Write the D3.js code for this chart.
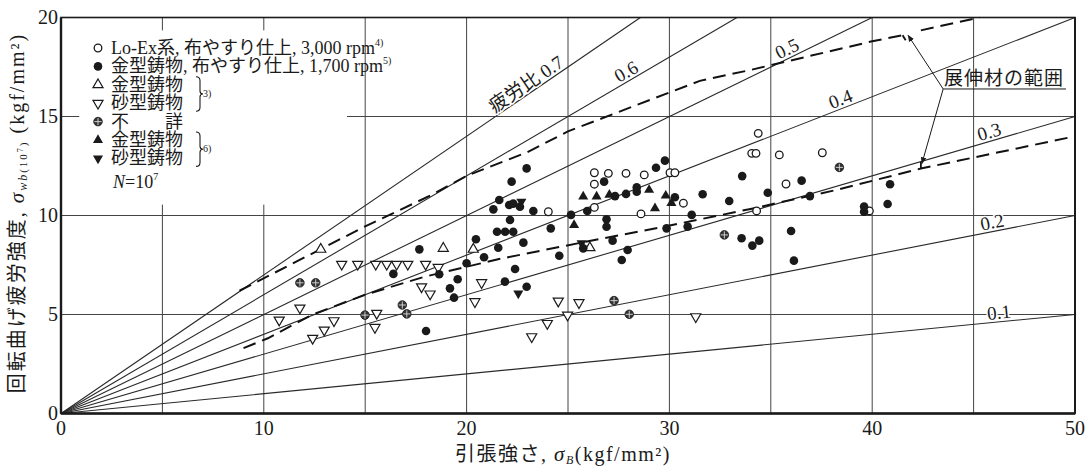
<!DOCTYPE html>
<html><head><meta charset="utf-8">
<script src="https://cdn.jsdelivr.net/npm/d3@7"></script>
<style>body{margin:0;background:#fff}svg{display:block}</style>
</head><body><svg id="c" width="1090" height="467"></svg>
<script>
// ---- axes / ticks ----
const xTicks=[0,10,20,30,40,50];
const yTicks=[0,5,10,15,20];
const xGrid=[5,10,15,20,25,30,35,40,45];
const yGrid=[5,10,15];
// ---- fatigue-ratio lines ----
const ratios=[0.1,0.2,0.3,0.4,0.5,0.6,0.7];
const ratioLabels=["0.1","0.2","0.3","0.4","0.5","0.6","疲労比 0.7"];
const ratioLabelAt=[46.3,46.0,45.9,38.6,36.0,28.1,23.2];
// ---- wrought-alloy range (dashed) ----
const wroughtUpper=[[8.8,6.2],[14.9,9.4],[18.2,11.0],[20,12.0],[23,13.2],[25,14.25],[31.5,16.8],[34,17.35],[40,18.8],[41.5,19.1]];
const wroughtUpper2=[[42.4,19.35],[45.3,20.0]];
const wroughtLower=[[9.0,3.3],[10.2,3.8],[12.4,5.0],[15.0,6.0],[17.9,6.9],[21.6,7.8],[25.7,8.64],[29.9,9.47],[34,10.33],[38.1,11.26],[42.4,12.37],[50,14.0]];
// ---- data series ----
const loExOpen=[[24.03,10.19],[26.3,10.41],[26.3,12.16],[26.99,12.13],[27.86,12.13],[28.76,12.05],[26.3,11.58],[30.03,12.16],[30.27,12.16],[28.6,10.08],[30.69,10.62],[34.06,13.14],[34.27,13.14],[34.38,14.15],[35.42,13.06],[35.75,11.59],[34.3,10.23],[37.54,13.17],[39.86,10.23]];
const moldPolished=[[16.39,7.05],[17.67,8.29],[18.65,7.03],[18.0,4.17],[19.18,6.32],[19.56,6.78],[19.38,5.85],[20.0,7.59],[20.46,8.8],[20.86,7.89],[21.89,6.66],[22.39,7.3],[22.96,6.4],[22.8,8.63],[21.56,8.37],[21.5,9.18],[21.9,9.18],[22.3,9.18],[22.14,9.77],[21.32,10.31],[21.61,10.78],[22.1,10.53],[22.3,10.6],[22.63,10.44],[22.22,11.71],[22.96,12.38],[23.29,10.23],[24.15,9.35],[24.57,7.97],[25.15,10.03],[25.75,8.34],[25.95,10.23],[26.9,9.81],[26.9,9.43],[27.2,8.73],[27.94,8.26],[27.65,7.75],[27.32,10.98],[27.86,11.09],[28.39,11.42],[28.39,11.2],[30.27,10.92],[26.78,11.71],[29.34,12.41],[29.78,12.77],[31.1,10.03],[31.64,11.07],[29.86,9.35],[30.9,9.44],[32.95,10.73],[33.59,11.99],[36.52,11.76],[34.85,11.15],[36.93,10.98],[33.56,8.85],[34.09,8.48],[34.43,8.73],[36.0,9.22],[36.14,7.72],[39.6,10.45],[39.6,10.19],[40.76,10.58],[40.88,11.58]];
const moldTri3=[[12.81,8.29],[18.85,8.34],[20.33,8.29],[26.08,8.37]];
const sandTri3=[[13.84,7.54],[14.63,7.54],[15.52,7.54],[16.06,7.54],[16.55,7.54],[17.1,7.54],[17.98,7.54],[18.6,7.38],[11.78,5.33],[10.76,4.72],[13.46,4.69],[12.98,4.22],[12.41,3.8],[15.57,5.06],[15.48,4.35],[17.78,6.4],[18.2,6.04],[20.74,6.61],[20.41,5.65],[24.52,5.68],[25.54,5.6],[24.98,4.97],[23.98,4.55],[23.21,3.88],[31.3,4.89]];
const unknown=[[11.78,6.6],[12.56,6.6],[14.99,4.97],[17.05,5.03],[16.83,5.48],[27.27,5.7],[28.02,5.01],[32.71,9.02],[38.38,12.43]];
const moldTri6=[[25.3,9.52],[25.75,10.95],[26.41,10.95],[27.04,11.04],[29.0,11.29],[29.29,10.36],[29.82,11.0],[30.1,10.63]];
const sandTri6=[[22.55,6.07],[22.7,10.7],[25.67,8.6]];

const legendRows=[
 {kind:"open",  parts:[["Lo-Ex系, 布やすり仕上, 3,000 rpm"],["4)","sup"]]},
 {kind:"filled",parts:[["金型鋳物, 布やすり仕上, 1,700 rpm"],["5)","sup"]]},
 {kind:"triUpOpen",parts:[["金型鋳物"]]},
 {kind:"triDnOpen",parts:[["砂型鋳物"]]},
 {kind:"cross", parts:[["不　　詳"]]},
 {kind:"triUp", parts:[["金型鋳物"]]},
 {kind:"triDn", parts:[["砂型鋳物"]]}
];

const FONT="'Liberation Serif','Noto Sans CJK JP',serif";
const INK="#1a1a1a";
const svg=d3.select("#c");
svg.append("rect").attr("width",1090).attr("height",467).attr("fill","#fff");

const x=d3.scaleLinear().domain([0,50]).range([61,1075]);
const y=d3.scaleLinear().domain([0,20]).range([413.5,17.5]);

const g=svg.append("g");
// grid
g.selectAll(".vg").data(xGrid).join("line").attr("x1",d=>x(d)).attr("x2",d=>x(d)).attr("y1",y(20)).attr("y2",y(0)).attr("stroke","#444").attr("stroke-width",1);
g.selectAll(".hg").data(yGrid).join("line").attr("y1",d=>y(d)).attr("y2",d=>y(d)).attr("x1",x(0)).attr("x2",x(50)).attr("stroke","#444").attr("stroke-width",1);

// ratio lines
const line=d3.line().x(d=>x(d[0])).y(d=>y(d[1]));
ratios.forEach(r=>{
  const xe=Math.min(50,20/r);
  g.append("path").attr("d",line([[0,0],[xe,r*xe]])).attr("stroke","#2a2a2a").attr("stroke-width",1.1).attr("fill","none");
});

// legend backdrop (hides grid)
g.append("rect").attr("x",x(0.9)).attr("y",y(19.35)).attr("width",x(14.1)-x(0.9)).attr("height",y(10.55)-y(19.35)).attr("fill","#fff");

// dashed range
[wroughtUpper,wroughtUpper2,wroughtLower].forEach(s=>{
  g.append("path").attr("d",line(s)).attr("stroke","#111").attr("stroke-width",2).attr("fill","none").attr("stroke-dasharray","13,7");
});
g.append("path").attr("d",line([[41.5,19.1],[41.65,18.85]])).attr("stroke","#111").attr("stroke-width",1.8).attr("fill","none");
g.append("path").attr("d",line([[42.4,12.37],[42.4,12.7]])).attr("stroke","#111").attr("stroke-width",1.8).attr("fill","none");

// ratio labels
ratios.forEach((r,i)=>{
  const xl=ratioLabelAt[i];
  const px=x(xl), py=y(r*xl);
  const ang=Math.atan2(y(r*(xl+1))-py, x(xl+1)-px)*180/Math.PI;
  g.append("text").attr("transform",`translate(${px},${py}) rotate(${ang})`)
   .attr("dy",-3).attr("text-anchor","middle").attr("font-family",FONT).attr("font-size",19)
   .attr("fill",INK).attr("stroke","#fff").attr("stroke-width",3).attr("paint-order","stroke")
   .text(ratioLabels[i]);
});

// frame
g.append("rect").attr("x",x(0)).attr("y",y(20)).attr("width",x(50)-x(0)).attr("height",y(0)-y(20)).attr("fill","none").attr("stroke",INK).attr("stroke-width",1.6);
g.append("line").attr("x1",x(0)).attr("x2",x(0)).attr("y1",y(20)).attr("y2",y(0)).attr("stroke",INK).attr("stroke-width",2.4);
g.append("line").attr("x1",x(0)).attr("x2",x(50)).attr("y1",y(0)).attr("y2",y(0)).attr("stroke",INK).attr("stroke-width",2.6);
g.append("line").attr("x1",x(50)).attr("x2",x(50)).attr("y1",y(20)).attr("y2",y(0)).attr("stroke",INK).attr("stroke-width",2);

// markers
function marker(sel,kind){
  const tri=d3.symbol().type(d3.symbolTriangle).size(44)();
  if(kind==="open") sel.append("circle").attr("r",3.8).attr("fill","#fff").attr("stroke",INK).attr("stroke-width",1.3);
  else if(kind==="filled") sel.append("circle").attr("r",4.3).attr("fill",INK);
  else if(kind==="cross"){ sel.append("circle").attr("r",4.3).attr("fill","#333").attr("stroke",INK).attr("stroke-width",0.8);
    sel.append("path").attr("d","M-3.6,0H3.6M0,-3.6V3.6").attr("stroke","#ddd").attr("stroke-width",0.9);}
  else if(kind==="triUpOpen") sel.append("path").attr("d",tri).attr("fill","#fff").attr("stroke",INK).attr("stroke-width",1.2);
  else if(kind==="triDnOpen") sel.append("path").attr("d",tri).attr("transform","rotate(180)").attr("fill","#fff").attr("stroke",INK).attr("stroke-width",1.2);
  else if(kind==="triUp") sel.append("path").attr("d",tri).attr("fill",INK);
  else if(kind==="triDn") sel.append("path").attr("d",tri).attr("transform","rotate(180)").attr("fill",INK);
}
const series=[[sandTri3,"triDnOpen"],[moldTri3,"triUpOpen"],[loExOpen,"open"],[moldPolished,"filled"],[unknown,"cross"],[moldTri6,"triUp"],[sandTri6,"triDn"]];
series.forEach(([arr,kind])=>{
  g.append("g").selectAll("g").data(arr).join("g").attr("transform",d=>`translate(${x(d[0])},${y(d[1])})`).each(function(){marker(d3.select(this),kind);});
});

// axis tick labels
g.selectAll(".xt").data(xTicks).join("text").attr("x",d=>x(d)).attr("y",435).attr("text-anchor","middle")
 .attr("font-family",FONT).attr("font-size",20).attr("fill",INK).text(d=>d);
g.selectAll(".yt").data(yTicks).join("text").attr("x",x(0)-3).attr("y",d=>y(d)+6).attr("text-anchor","end")
 .attr("font-family",FONT).attr("font-size",20).attr("fill",INK).text(d=>d);

// axis titles
const xt=g.append("text").attr("x",563).attr("y",461).attr("text-anchor","middle").attr("font-family",FONT).attr("font-size",20).attr("letter-spacing",1.5).attr("fill",INK);
xt.append("tspan").text("引張強さ, ");
xt.append("tspan").attr("font-style","italic").attr("font-size",21).text("σ");
xt.append("tspan").attr("font-style","italic").attr("font-size",12).attr("dy",3).text("B");
xt.append("tspan").attr("dy",-3).text("(kgf/mm²)");

const yt=g.append("text").attr("transform","translate(24,213) rotate(-90)").attr("text-anchor","middle").attr("font-family",FONT).attr("font-size",20).attr("letter-spacing",2).attr("fill",INK);
yt.append("tspan").text("回転曲げ疲労強度, ");
yt.append("tspan").attr("font-style","italic").attr("font-size",21).text("σ");
yt.append("tspan").attr("font-style","italic").attr("font-size",12).attr("dy",3).text("wb");
yt.append("tspan").attr("font-size",11).text("(10");
yt.append("tspan").attr("font-size",8).attr("dy",-4).text("7");
yt.append("tspan").attr("font-size",11).attr("dy",4).text(")");
yt.append("tspan").attr("dy",-3).text(" (kgf/mm²)");

// legend
const rowY=i=>48+i*18.4;
legendRows.forEach((row,i)=>{
  const lg=g.append("g").attr("transform",`translate(98,${rowY(i)})`);
  marker(lg,row.kind);
  const t=g.append("text").attr("x",111).attr("y",rowY(i)+6).attr("font-family",FONT).attr("font-size",18).attr("fill",INK);
  row.parts.forEach(p=>{
    if(p[1]==="sup") t.append("tspan").attr("font-size",10).attr("dy",-8).text(p[0]);
    else t.append("tspan").text(p[0]);
  });
});
function brace(yTop,yBot,ref){
  const bx=196, ym=(yTop+yBot)/2;
  g.append("path").attr("d",`M${bx},${yTop} q4,0 4,4 V${ym-3} q0,3 3,3 q-3,0 -3,3 V${yBot-4} q0,4 -4,4`).attr("fill","none").attr("stroke",INK).attr("stroke-width",1.1);
  g.append("text").attr("x",bx+7).attr("y",ym+3).attr("font-family",FONT).attr("font-size",10).attr("fill",INK).text(ref);
}
brace(rowY(2)-8,rowY(3)+8,"3)");
brace(rowY(5)-8,rowY(6)+8,"6)");
const nt=g.append("text").attr("x",113).attr("y",rowY(7)+11).attr("font-family",FONT).attr("font-size",18).attr("fill",INK);
nt.append("tspan").attr("font-style","italic").text("N");
nt.append("tspan").text("=10");
nt.append("tspan").attr("font-size",10).attr("dy",-8).text("7");

// annotation
g.append("text").attr("x",944).attr("y",85).attr("font-family",FONT).attr("font-size",19).attr("letter-spacing",1).attr("fill",INK).text("展伸材の範囲");
g.append("line").attr("x1",x(43.5)).attr("x2",1066).attr("y1",y(16.39)).attr("y2",y(16.39)).attr("stroke",INK).attr("stroke-width",1);
const defs=svg.append("defs");
defs.append("marker").attr("id","ah").attr("viewBox","0 0 10 10").attr("refX",9).attr("refY",5).attr("markerWidth",7).attr("markerHeight",7).attr("orient","auto")
 .append("path").attr("d","M0,1L10,5L0,9Z").attr("fill",INK);
g.append("path").attr("d",line([[43.5,16.39],[41.77,19.1]])).attr("stroke",INK).attr("stroke-width",1).attr("fill","none").attr("marker-end","url(#ah)");
g.append("path").attr("d",line([[43.5,16.39],[42.45,12.62]])).attr("stroke",INK).attr("stroke-width",1).attr("fill","none").attr("marker-end","url(#ah)");
</script></body></html>
